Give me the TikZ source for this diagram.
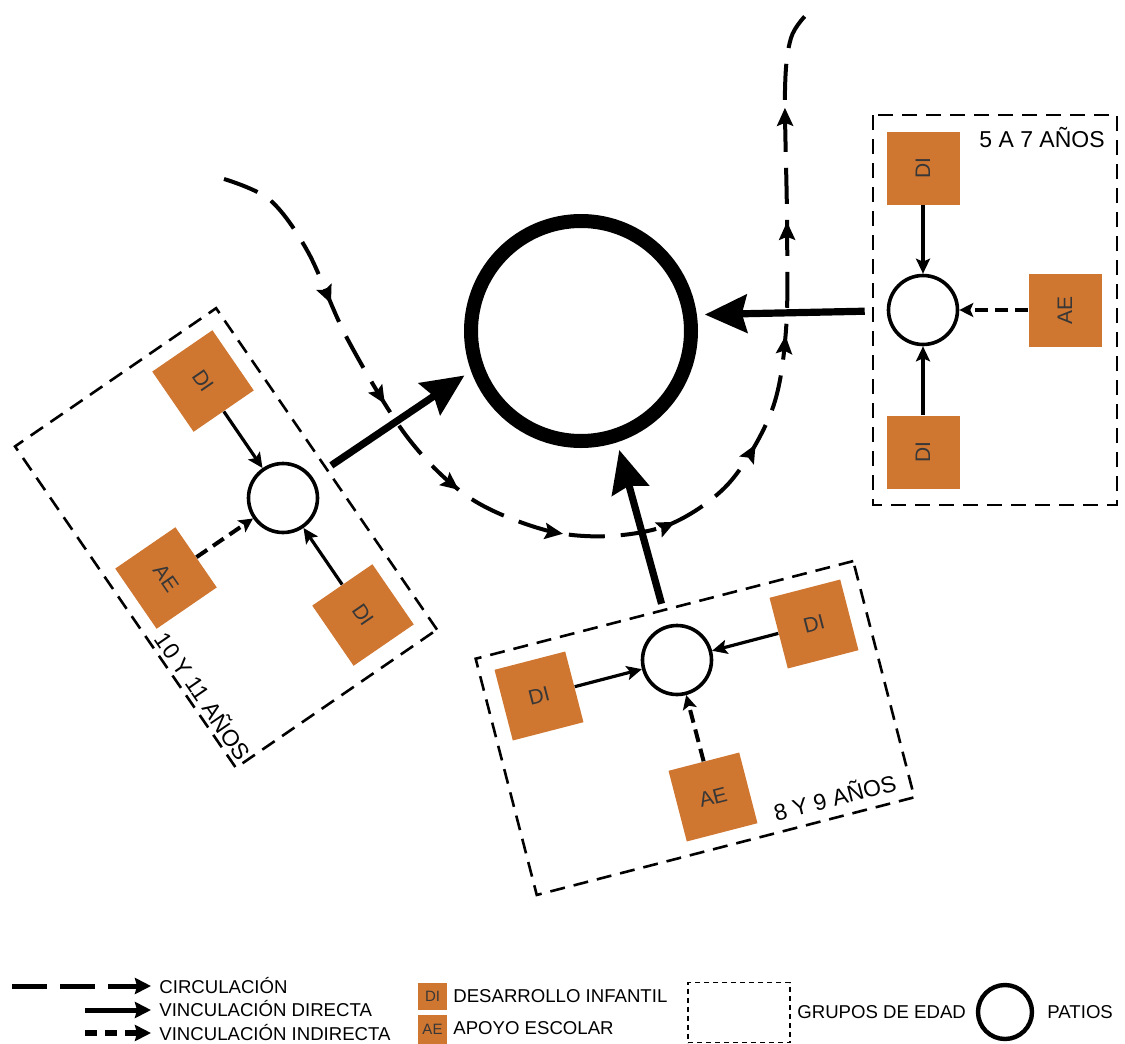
\documentclass[tikz,border=0pt]{standalone}
\usepackage{fontspec}
\setmainfont{Liberation Sans}
\usepackage{tikz}
\usetikzlibrary{arrows.meta,decorations.markings}
\definecolor{naranja}{RGB}{207,118,49}
\definecolor{letra}{RGB}{55,55,55}

\begin{document}
\begin{tikzpicture}[x=0.5pt,y=0.5pt,
  patio/.style={draw,circle,line width=1.8pt,minimum size=34.5pt,inner sep=0pt},
  cuadro/.style={fill=naranja,minimum size=36.5pt,inner sep=0pt,text=letra,font=\fontsize{10.5}{12}\selectfont},
  grupo/.style={draw,line width=1.3pt,dash pattern=on 7.5pt off 4.5pt,minimum width=195pt,minimum height=122pt,inner sep=0pt},
  edad/.style={anchor=base,inner sep=0pt,font=\fontsize{11.5}{13}\selectfont},
  directa/.style={-{Stealth[length=7.5pt,width=7pt,inset=1.5pt]},line width=1.6pt},
  indirecta/.style={-{Stealth[length=7pt,width=7pt,inset=1.5pt]},line width=2pt,dash pattern=on 6.5pt off 3.5pt},
  fuerte/.style={-{Stealth[length=21pt,width=19pt,inset=2.5pt]},line width=3.6pt,shorten <=11pt,shorten >=4pt},
  circulacion/.style={line width=2pt,dash pattern=on 18pt off 8pt,postaction={decorate},
    decoration={markings,mark=between positions 86pt and 550pt step 57pt with {\arrow{Stealth[length=9pt,width=8pt,inset=1.5pt]}}}},
  leyenda/.style={anchor=base west,inner sep=0pt,font=\fontsize{9.3}{11}\selectfont}]
\useasboundingbox (0,0) rectangle (1125,-1044);

\coordinate (cIn) at (224,-179);
\coordinate (cOut) at (807,-14);
\draw [circulacion] plot[smooth,tension=0.55] coordinates {(cIn) (270,-200) (308,-252) (348,-340) (408,-438) (470,-498) (545,-530) (610,-536) (673,-523) (730,-482) (772,-410) (786,-330) (787,-220) (785,-90) (791,-38) (cOut)};

\node (PM) at (581,-331)[draw,circle,line width=7pt,minimum size=110pt,inner sep=0pt] {};

\node (GR) at (995,-310)[grupo,rotate=90] {};
\node (PR) at (923,-310)[patio] {};
\node (DIR1) at (923,-168)[cuadro,rotate=90] {DI};
\node (DIR2) at (923,-452)[cuadro,rotate=90] {DI};
\node (AER) at (1065,-310)[cuadro,rotate=90] {AE};
\node (ER) at (1042,-147)[edad] {5 A 7 AÑOS};
\draw [directa] (DIR1) to (PR);
\draw [directa] (DIR2) to (PR);
\draw [indirecta] (AER) to (PR);

\node (GB) at (695,-728)[grupo,rotate=14.5] {};
\node (PB) at (677,-660)[patio] {};
\node (DIB1) at (539,-696)[cuadro,rotate=14.5] {DI};
\node (DIB2) at (814,-624)[cuadro,rotate=14.5] {DI};
\node (AEB) at (713,-797)[cuadro,rotate=14.5] {AE};
\node (EB) at (837,-806)[edad,rotate=14.5] {8 Y 9 AÑOS};
\draw [directa] (DIB1) to (PB);
\draw [directa] (DIB2) to (PB);
\draw [indirecta] (AEB) to (PB);

\node (GL) at (226,-538)[grupo,rotate=-55.5] {};
\node (PL) at (283,-498)[patio] {};
\node (DIL1) at (203,-381)[cuadro,rotate=-55.5] {DI};
\node (DIL2) at (363,-615)[cuadro,rotate=-55.5] {DI};
\node (AEL) at (166,-578)[cuadro,rotate=-55.5] {AE};
\node (EL) at (196,-701)[edad,rotate=-55.5] {10 Y 11 AÑOS};
\draw [directa] (DIL1) to (PL);
\draw [directa] (DIL2) to (PL);
\draw [indirecta] (AEL) to (PL);

\draw [fuerte] (PL) to (PM.200);
\draw [fuerte] (PR) to (PM.8);
\draw [fuerte] (PB) to (PM.-72);

\coordinate (lC) at (12,-986);
\coordinate (lD) at (85,-1010);
\coordinate (lI) at (85,-1033);
\node (tC) at (159,-993.5)[leyenda] {CIRCULACIÓN};
\node (tD) at (159,-1016.5)[leyenda] {VINCULACIÓN DIRECTA};
\node (tI) at (159,-1040)[leyenda] {VINCULACIÓN INDIRECTA};
\draw [-{Stealth[length=8pt,width=8pt,inset=1pt]},line width=2.5pt,dash pattern=on 17.5pt off 6.5pt,shorten >=4pt] (lC) -- (lC -| tC.west);
\draw [-{Stealth[length=8pt,width=8pt,inset=1pt]},line width=2.5pt,shorten >=4pt] (lD) -- (lD -| tD.west);
\draw [-{Stealth[length=8pt,width=8pt,inset=1pt]},line width=3pt,dash pattern=on 6pt off 4pt,shorten >=4pt] (lI) -- (lI -| tI.west);

\node (lDI) at (432.5,-996.5)[fill=naranja,minimum width=14.5pt,minimum height=13.5pt,inner sep=0pt,text=letra,font=\fontsize{7.5}{8}\selectfont] {DI};
\node (lAE) at (432.5,-1029.5)[fill=naranja,minimum width=14.5pt,minimum height=14.5pt,inner sep=0pt,text=letra,font=\fontsize{7.5}{8}\selectfont] {AE};
\node (tDI) at (453,-1002.5)[leyenda] {DESARROLLO INFANTIL};
\node (tAE) at (453,-1034.5)[leyenda] {APOYO ESCOLAR};
\node (lG) at (739,-1012.5)[draw,line width=0.8pt,dash pattern=on 2.5pt off 2pt,minimum width=51pt,minimum height=30pt,inner sep=0pt] {};
\node (tG) at (797,-1018.5)[leyenda] {GRUPOS DE EDAD};
\node (lP) at (1005,-1012)[draw,circle,line width=2.2pt,minimum size=27pt,inner sep=0pt] {};
\node (tP) at (1047,-1018.5)[leyenda] {PATIOS};
\end{tikzpicture}
\end{document}
